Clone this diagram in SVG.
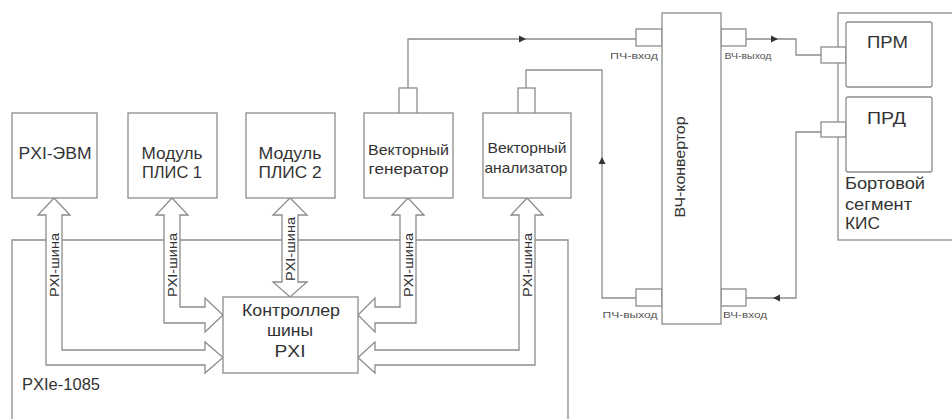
<svg xmlns="http://www.w3.org/2000/svg" width="952" height="419" viewBox="0 0 952 419">
<style>
.b{fill:#fff;stroke:#8c8c8c;stroke-width:1.3}
.l{fill:none;stroke:#8c8c8c;stroke-width:1.3}
.a{fill:#fff;stroke:#8c8c8c;stroke-width:1.3;stroke-linejoin:miter}
.t{font-family:"Liberation Sans",Arial,sans-serif;fill:#333;text-anchor:middle}
.m{font-size:16px}
.s{font-size:15px}
.x{font-size:12.5px}
.p{font-size:9px;fill:#555}
.h{fill:#333}
</style>
<rect width="952" height="419" fill="#fff"/>
<g id="chassis">
<path class="l" d="M12,419 V240 H568 V419"/>
<text class="t m" x="22" y="390" style="text-anchor:start" textLength="78" lengthAdjust="spacingAndGlyphs">PXIe-1085</text>
</g>
<g id="connectors">
<path class="l" d="M408,88 V39 H636"/>
<path class="h" d="M526,39 l-7,-3.5 v7 z"/>
<path class="l" d="M526,88 V70 H602 V298 H636"/>
<path class="h" d="M602,157 l-3.5,7 h7 z"/>
<path class="l" d="M746,39 H796 V55 H821"/>
<path class="h" d="M778,39 l-7,-3.5 v7 z"/>
<path class="l" d="M821,132 H796 V298 H746"/>
<path class="h" d="M773,298 l7,-3.5 v7 z"/>
<path class="a" d="M54,198 L70,215 L62,215 L62,350 L205,350 L205,342 L223,357.5 L205,373 L205,365 L46,365 L46,215 L38,215 Z"/>
<path class="a" d="M172,198 L188,215 L180,215 L180,307 L205,307 L205,298 L223,315 L205,332 L205,323 L164,323 L164,215 L156,215 Z"/>
<path class="a" d="M290,198 L307,215 L298,215 L298,282 L307,282 L290,297 L273,282 L282,282 L282,215 L273,215 Z"/>
<path class="a" d="M408,198 L424,215 L416,215 L416,323 L375,323 L375,332 L358,315 L375,298 L375,307 L400,307 L400,215 L392,215 Z"/>
<path class="a" d="M527,198 L543,215 L535,215 L535,365 L375,365 L375,373 L358,357.5 L375,342 L375,350 L519,350 L519,215 L511,215 Z"/>
<text class="t x" transform="translate(58.5,265) rotate(-90)" textLength="64" lengthAdjust="spacingAndGlyphs">PXI-шина</text>
<text class="t x" transform="translate(176.5,265) rotate(-90)" textLength="64" lengthAdjust="spacingAndGlyphs">PXI-шина</text>
<text class="t x" transform="translate(294.5,249) rotate(-90)" textLength="64" lengthAdjust="spacingAndGlyphs">PXI-шина</text>
<text class="t x" transform="translate(412.5,265) rotate(-90)" textLength="64" lengthAdjust="spacingAndGlyphs">PXI-шина</text>
<text class="t x" transform="translate(531.5,265) rotate(-90)" textLength="64" lengthAdjust="spacingAndGlyphs">PXI-шина</text>
</g>
<g id="pxi-evm">
<rect class="b" x="12" y="113" width="85" height="85"/>
<text class="t m" x="55" y="159" textLength="73" lengthAdjust="spacingAndGlyphs">PXI-ЭВМ</text>
</g>
<g id="plis1">
<rect class="b" x="128" y="113" width="89" height="85"/>
<text class="t m" x="172" y="159" textLength="61" lengthAdjust="spacingAndGlyphs">Модуль</text>
<text class="t m" x="172" y="178" textLength="60" lengthAdjust="spacingAndGlyphs">ПЛИС 1</text>
</g>
<g id="plis2">
<rect class="b" x="246" y="113" width="89" height="85"/>
<text class="t m" x="290" y="159" textLength="63" lengthAdjust="spacingAndGlyphs">Модуль</text>
<text class="t m" x="290" y="178" textLength="63" lengthAdjust="spacingAndGlyphs">ПЛИС 2</text>
</g>
<g id="generator">
<rect class="b" x="399" y="88" width="18" height="26"/>
<rect class="b" x="364" y="113" width="89" height="85"/>
<text class="t s" x="408.5" y="155" textLength="81" lengthAdjust="spacingAndGlyphs">Векторный</text>
<text class="t s" x="408.5" y="174" textLength="80" lengthAdjust="spacingAndGlyphs">генератор</text>
</g>
<g id="analyzer">
<rect class="b" x="518" y="88" width="17" height="26"/>
<rect class="b" x="483" y="113" width="88" height="85"/>
<text class="t s" x="527" y="153" textLength="79" lengthAdjust="spacingAndGlyphs">Векторный</text>
<text class="t s" x="526" y="173" textLength="83" lengthAdjust="spacingAndGlyphs">анализатор</text>
</g>
<g id="controller">
<rect class="b" x="223" y="297" width="135" height="76"/>
<text class="t m" x="291" y="316" textLength="98" lengthAdjust="spacingAndGlyphs">Контроллер</text>
<text class="t m" x="290" y="336" textLength="46" lengthAdjust="spacingAndGlyphs">шины</text>
<text class="t m" x="290" y="357" textLength="31" lengthAdjust="spacingAndGlyphs">PXI</text>
</g>
<g id="converter">
<rect class="b" x="636" y="29" width="26" height="17"/>
<rect class="b" x="721" y="29" width="25" height="17"/>
<rect class="b" x="636" y="289" width="26" height="17"/>
<rect class="b" x="721" y="289" width="25" height="17"/>
<rect class="b" x="662" y="13" width="59" height="311"/>
<text class="t s" transform="translate(685,167) rotate(-90)" textLength="101" lengthAdjust="spacingAndGlyphs">ВЧ-конвертор</text>
<text class="t p" x="634" y="59" textLength="48" lengthAdjust="spacingAndGlyphs">ПЧ-вход</text>
<text class="t p" x="748" y="59" textLength="47" lengthAdjust="spacingAndGlyphs">ВЧ-выход</text>
<text class="t p" x="630" y="318" textLength="55" lengthAdjust="spacingAndGlyphs">ПЧ-выход</text>
<text class="t p" x="745" y="318" textLength="44" lengthAdjust="spacingAndGlyphs">ВЧ-вход</text>
</g>
<g id="onboard">
<rect class="b" x="838" y="13" width="130" height="227"/>
<text class="t m" x="845" y="189" style="text-anchor:start" textLength="80" lengthAdjust="spacingAndGlyphs">Бортовой</text>
<text class="t m" x="845" y="210" style="text-anchor:start" textLength="67" lengthAdjust="spacingAndGlyphs">сегмент</text>
<text class="t m" x="845" y="229" style="text-anchor:start" textLength="35" lengthAdjust="spacingAndGlyphs">КИС</text>
</g>
<g id="prm">
<rect class="b" x="821" y="47" width="25" height="16"/>
<rect class="b" x="846" y="22" width="86" height="65" rx="2"/>
<text class="t m" x="887.5" y="48" textLength="41" lengthAdjust="spacingAndGlyphs">ПРМ</text>
</g>
<g id="prd">
<rect class="b" x="821" y="122" width="25" height="15"/>
<rect class="b" x="846" y="97" width="86" height="75" rx="2"/>
<text class="t m" x="886.5" y="124" textLength="39" lengthAdjust="spacingAndGlyphs">ПРД</text>
</g>
</svg>
